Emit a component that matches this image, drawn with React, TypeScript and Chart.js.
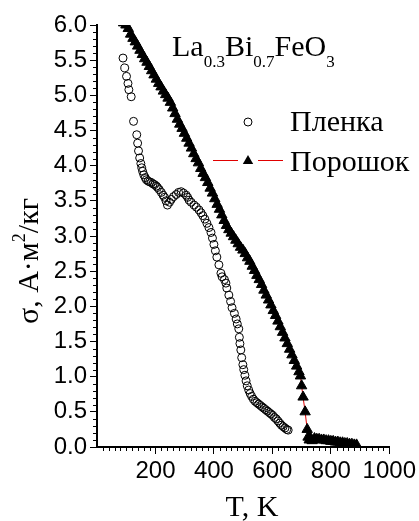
import React, { useEffect, useRef } from "react";
import { Chart, registerables } from "chart.js";

Chart.register(...registerables);

// Пленка (film) — hollow circles
const filmT = [89, 95, 101, 106, 109, 117, 125, 136, 139, 142, 146, 150, 153, 156, 160, 165, 169, 175, 180, 186, 192, 197, 203, 207, 213, 220, 226, 231, 236, 241, 248, 254, 262, 271, 279, 288, 296, 305, 310, 315, 322, 332, 340, 349, 356, 362, 369, 376, 383, 390, 395, 400, 405, 410, 417, 424, 428, 436, 441, 444, 451, 457, 462, 470, 476, 480, 485, 487, 489, 492, 495, 499, 502, 506, 510, 514, 519, 524, 529, 535, 541, 547, 553, 559, 565, 571, 577, 583, 589, 595, 601, 607, 613, 619, 625, 631, 637, 643, 649, 654];
const filmSigma = [5.53, 5.39, 5.27, 5.17, 5.08, 4.98, 4.63, 4.44, 4.32, 4.21, 4.11, 4.03, 3.97, 3.92, 3.87, 3.83, 3.80, 3.78, 3.77, 3.76, 3.74, 3.73, 3.71, 3.69, 3.66, 3.62, 3.58, 3.55, 3.50, 3.44, 3.48, 3.52, 3.56, 3.59, 3.62, 3.63, 3.61, 3.58, 3.55, 3.51, 3.48, 3.44, 3.41, 3.37, 3.33, 3.29, 3.24, 3.18, 3.12, 3.05, 2.97, 2.88, 2.79, 2.70, 2.59, 2.47, 2.42, 2.38, 2.33, 2.26, 2.16, 2.07, 1.98, 1.90, 1.82, 1.75, 1.68, 1.56, 1.47, 1.38, 1.27, 1.17, 1.10, 1.02, 0.94, 0.87, 0.81, 0.76, 0.72, 0.68, 0.65, 0.63, 0.61, 0.59, 0.57, 0.55, 0.53, 0.51, 0.49, 0.47, 0.45, 0.42, 0.40, 0.37, 0.34, 0.31, 0.29, 0.27, 0.25, 0.24];

// Порошок (powder) — filled triangles
const powderT = [75, 83, 91, 99, 107, 115, 123, 131, 139, 147, 155, 163, 171, 179, 187, 195, 203, 211, 219, 227, 235, 243, 251, 259, 267, 275, 283, 291, 299, 307, 315, 323, 331, 339, 347, 355, 363, 371, 379, 387, 395, 403, 411, 419, 427, 435, 443, 451, 459, 467, 475, 483, 491, 499, 507, 515, 523, 531, 539, 547, 555, 563, 571, 579, 587, 595, 603, 611, 619, 627, 635, 643, 651, 659, 667, 675, 683, 691, 696, 700, 705, 712, 719, 722, 726, 730, 736, 744, 752, 760, 768, 776, 784, 792, 800, 808, 816, 824, 832, 840, 848, 856, 864, 872, 880, 888];
const powderSigma = [6.08, 6.05, 6.03, 6.00, 5.95, 5.87, 5.81, 5.76, 5.70, 5.64, 5.58, 5.52, 5.47, 5.41, 5.35, 5.29, 5.23, 5.17, 5.12, 5.06, 5.01, 4.96, 4.90, 4.82, 4.74, 4.66, 4.59, 4.53, 4.46, 4.39, 4.32, 4.25, 4.17, 4.10, 4.04, 3.96, 3.89, 3.83, 3.76, 3.68, 3.61, 3.53, 3.45, 3.38, 3.30, 3.22, 3.15, 3.09, 3.04, 2.99, 2.94, 2.89, 2.84, 2.80, 2.75, 2.69, 2.64, 2.57, 2.51, 2.44, 2.38, 2.31, 2.23, 2.16, 2.09, 2.02, 1.94, 1.87, 1.79, 1.71, 1.63, 1.55, 1.47, 1.39, 1.31, 1.23, 1.15, 1.07, 1.01, 0.87, 0.71, 0.50, 0.25, 0.14, 0.10, 0.13, 0.09, 0.12, 0.11, 0.11, 0.10, 0.10, 0.09, 0.09, 0.08, 0.08, 0.07, 0.07, 0.06, 0.06, 0.05, 0.05, 0.04, 0.04, 0.03, 0.03];

const seriesNames = ["Пленка", "Порошок"];
const titleParts = [
  { text: "La", sub: false },
  { text: "0.3", sub: true },
  { text: "Bi", sub: false },
  { text: "0.7", sub: true },
  { text: "FeO", sub: false },
  { text: "3", sub: true },
];
const xTitle = "T, K";
const yTitleMain = "σ, A·м";
const yTitleSup = "2";
const yTitleEnd = "/кг";

const X_MIN = 0, X_MAX = 1000, X_STEP = 200, X_MINOR = 20;
const Y_MIN = 0, Y_MAX = 6, Y_STEP = 0.5, Y_MINOR = 0.1;

const SERIF = "'Liberation Serif', 'Times New Roman', serif";
const SANS = "'Liberation Sans', Arial, sans-serif";
const RED = "#e00000";
const TRI_R = 6;

function drawTriangle(ctx: CanvasRenderingContext2D, x: number, y: number, r: number) {
  ctx.beginPath();
  for (let k = 0; k < 3; k++) {
    const a = -Math.PI / 2 + (k * 2 * Math.PI) / 3;
    const px = x + Math.cos(a) * r;
    const py = y + Math.sin(a) * r;
    if (k === 0) ctx.moveTo(px, py); else ctx.lineTo(px, py);
  }
  ctx.closePath();
  ctx.fill();
}

const overlay = {
  id: "overlay",
  afterDraw(chart: any) {
    const ctx: CanvasRenderingContext2D = chart.ctx;
    const xs = chart.scales.x;
    const ys = chart.scales.y;
    const area = chart.chartArea;
    ctx.save();
    // minor ticks
    ctx.strokeStyle = "#000";
    ctx.lineWidth = 1;
    ctx.beginPath();
    const nx = Math.round((X_MAX - X_MIN) / X_MINOR);
    for (let i = 1; i < nx; i++) {
      if (i % Math.round(X_STEP / X_MINOR) === 0) continue;
      const px = Math.round(xs.getPixelForValue(X_MIN + i * X_MINOR)) + 0.5;
      ctx.moveTo(px, area.bottom);
      ctx.lineTo(px, area.bottom + 4);
    }
    const ny = Math.round((Y_MAX - Y_MIN) / Y_MINOR);
    for (let i = 1; i < ny; i++) {
      if (i % Math.round(Y_STEP / Y_MINOR) === 0) continue;
      const py = Math.round(ys.getPixelForValue(Y_MIN + i * Y_MINOR)) + 0.5;
      ctx.moveTo(area.left - 4, py);
      ctx.lineTo(area.left, py);
    }
    ctx.stroke();

    ctx.fillStyle = "#000";
    ctx.textBaseline = "alphabetic";
    ctx.textAlign = "left";

    // chemical formula title
    let tx = 172;
    const tBase = 56;
    for (const p of titleParts) {
      ctx.font = p.sub ? `17px ${SERIF}` : `30px ${SERIF}`;
      ctx.fillText(p.text, tx, p.sub ? tBase + 11 : tBase);
      tx += ctx.measureText(p.text).width;
    }

    // legend
    ctx.font = `30px ${SERIF}`;
    ctx.strokeStyle = "#000";
    ctx.lineWidth = 1;
    ctx.beginPath();
    ctx.arc(248, 122, 4, 0, Math.PI * 2);
    ctx.stroke();
    ctx.fillText(seriesNames[0], 290, 131);

    ctx.strokeStyle = RED;
    ctx.beginPath();
    ctx.moveTo(213, 160.5);
    ctx.lineTo(238, 160.5);
    ctx.moveTo(258, 160.5);
    ctx.lineTo(283, 160.5);
    ctx.stroke();
    ctx.fillStyle = "#000";
    drawTriangle(ctx, 248, 161, 6);
    ctx.fillText(seriesNames[1], 290, 171);

    // x title
    ctx.font = `30px ${SERIF}`;
    ctx.textAlign = "center";
    ctx.fillText(xTitle, 252, 516);

    // y title (rotated)
    ctx.save();
    ctx.translate(38, 261);
    ctx.rotate(-Math.PI / 2);
    ctx.textAlign = "left";
    ctx.font = `30px ${SERIF}`;
    const w1 = ctx.measureText(yTitleMain).width;
    const w3 = ctx.measureText(yTitleEnd).width;
    ctx.font = `18px ${SERIF}`;
    const w2 = ctx.measureText(yTitleSup).width;
    let sx = -(w1 + w2 + w3) / 2;
    ctx.font = `30px ${SERIF}`;
    ctx.fillText(yTitleMain, sx, 0);
    sx += w1;
    ctx.font = `18px ${SERIF}`;
    ctx.fillText(yTitleSup, sx, -13);
    sx += w2;
    ctx.font = `30px ${SERIF}`;
    ctx.fillText(yTitleEnd, sx, 0);
    ctx.restore();

    ctx.restore();
  },
};

export default function App() {
  const ref = useRef<HTMLCanvasElement | null>(null);
  useEffect(() => {
    if (!ref.current) return;
    const film = filmT.map((t, i) => ({ x: t, y: filmSigma[i] }));
    const powder = powderT.map((t, i) => ({ x: t, y: powderSigma[i] }));
    const chart = new Chart(ref.current, {
      type: "scatter",
      data: {
        datasets: [
          {
            label: seriesNames[0],
            data: film,
            showLine: false,
            pointStyle: "circle",
            pointRadius: 4,
            pointBorderWidth: 1,
            pointBorderColor: "#000",
            pointBackgroundColor: "rgba(0,0,0,0)",
            clip: 0,
          },
          {
            label: seriesNames[1],
            data: powder,
            showLine: true,
            borderColor: RED,
            borderWidth: 1,
            pointStyle: "triangle",
            pointRadius: TRI_R,
            pointBorderWidth: 1,
            pointBorderColor: "#000",
            pointBackgroundColor: "#000",
            clip: 0,
          },
        ],
      } as any,
      options: {
        animation: false,
        responsive: false,
        devicePixelRatio: 1,
        layout: { padding: { top: 25, right: 0, left: 0, bottom: 0 } },
        plugins: { legend: { display: false }, tooltip: { enabled: false } },
        scales: {
          x: {
            type: "linear",
            min: X_MIN,
            max: X_MAX,
            ticks: {
              stepSize: X_STEP,
              autoSkip: false,
              maxRotation: 0,
              padding: 3,
              color: "#000",
              font: { family: SANS, size: 24 },
              callback: (v: any) => (Number(v) === 0 ? null : String(v)),
            },
            grid: {
              drawOnChartArea: false,
              drawTicks: true,
              tickLength: 7,
              tickColor: "#000",
              tickWidth: 1,
            },
            border: { display: true, color: "#000", width: 2 },
            afterFit: (s: any) => { s.height = 74; },
          },
          y: {
            type: "linear",
            min: Y_MIN,
            max: Y_MAX,
            ticks: {
              stepSize: Y_STEP,
              autoSkip: false,
              padding: 3,
              color: "#000",
              font: { family: SANS, size: 24 },
              callback: (v: any) => Number(v).toFixed(1),
            },
            grid: {
              drawOnChartArea: false,
              drawTicks: true,
              tickLength: 7,
              tickColor: "#000",
              tickWidth: 1,
            },
            border: { display: true, color: "#000", width: 2 },
            afterFit: (s: any) => { s.width = 97; },
          },
        },
      } as any,
      plugins: [overlay],
    });
    return () => chart.destroy();
  }, []);
  return (
    <div style={{ position: "fixed", left: 0, top: 0, width: 419, height: 521, background: "#fff" }}>
      <canvas ref={ref} width={419} height={521} style={{ width: 419, height: 521, display: "block" }} />
    </div>
  );
}
